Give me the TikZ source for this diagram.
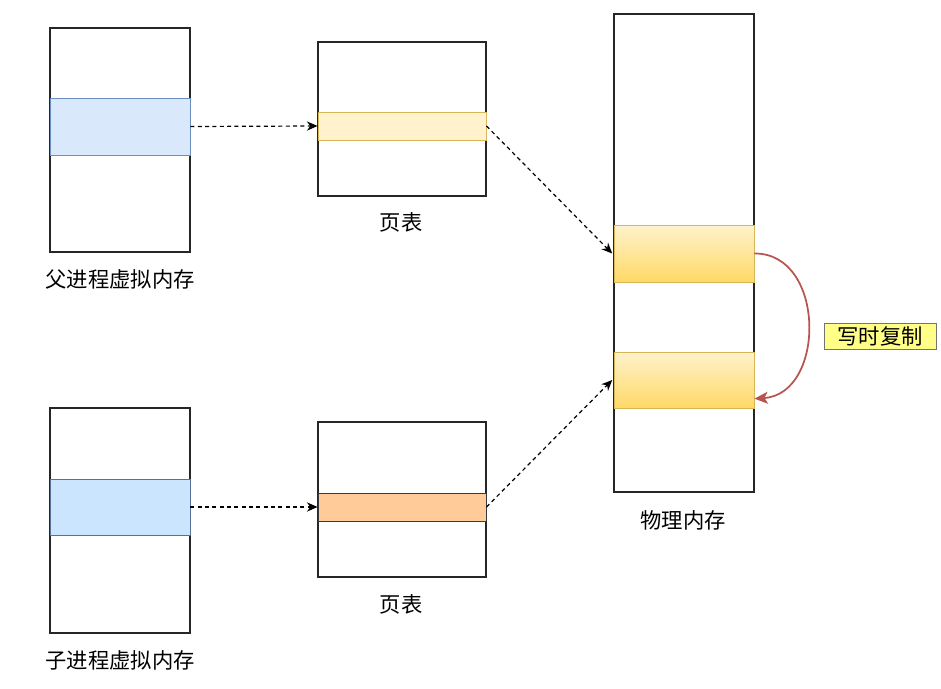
\documentclass[tikz,border=0pt]{standalone}
\usepackage{fontspec}
\newfontfamily\cjk{Noto Sans CJK SC}
\usetikzlibrary{arrows.meta}
\definecolor{blueA}{HTML}{DAE8FC}
\definecolor{blueAb}{HTML}{6C8EBF}
\definecolor{blueB}{HTML}{CCE5FF}
\definecolor{yelA}{HTML}{FFF2CC}
\definecolor{yelAb}{HTML}{D6B656}
\definecolor{yelB}{HTML}{FFD966}
\definecolor{orA}{HTML}{FFCC99}
\definecolor{darkb}{HTML}{36393D}
\definecolor{redc}{HTML}{B85450}
\definecolor{labfill}{HTML}{FFFF88}
\tikzset{
  mem/.style={draw=black!85, line width=0.9pt, fill=white},
  lbl/.style={font=\cjk\fontsize{16pt}{19pt}\selectfont, inner sep=0pt},
  dasharrow/.style={dash pattern=on 3pt off 2.5pt, line width=0.9pt, -{Stealth[length=8pt,width=7pt]}},
}
\begin{document}
\begin{tikzpicture}[x=0.75pt,y=-0.75pt]
\useasboundingbox (0,0) rectangle (941,688);
% parent virtual memory
\draw[mem] (50,28) rectangle (190,252);
\node[draw=blueAb, fill=blueA, minimum width=105pt, minimum height=42.75pt, inner sep=0pt, line width=0.7pt] (pband) at (120,126.5) {};
\node[lbl] (plab) at (120,279) {父进程虚拟内存};
% page table 1
\draw[mem] (318,42) rectangle (486,196);
\node[draw=yelAb, fill=yelA, minimum width=126pt, minimum height=21pt, inner sep=0pt, line width=0.7pt] (t1band) at (402,126) {};
\node[lbl] (t1lab) at (401,222) {页表};
% physical memory
\draw[mem] (614,14) rectangle (754,492);
\node[draw=yelAb, top color=yelA, bottom color=yelB, minimum width=105pt, minimum height=42.75pt, inner sep=0pt, line width=0.7pt] (m1) at (684,253.5) {};
\node[draw=yelAb, top color=yelA, bottom color=yelB, minimum width=105pt, minimum height=42pt, inner sep=0pt, line width=0.7pt] (m2) at (684,380) {};
\node[lbl] (mlab) at (683,520) {物理内存};
% child virtual memory
\draw[mem] (50,408) rectangle (190,633);
\node[draw=blueAb!80!black, fill=blueB, minimum width=105pt, minimum height=42pt, inner sep=0pt, line width=0.7pt] (cband) at (120,507) {};
\node[lbl] (clab) at (120,660) {子进程虚拟内存};
% page table 2
\draw[mem] (318,422) rectangle (486,577);
\node[draw=darkb, fill=orA, minimum width=126pt, minimum height=21pt, inner sep=0pt, line width=0.7pt] (t2band) at (402,507) {};
\node[lbl] (t2lab) at (401,604) {页表};
% label
\node[draw=darkb!70, fill=labfill, lbl, minimum width=84pt, minimum height=20pt, line width=0.7pt] (cow) at (880,336.5) {写时复制};
% arrows
\draw[dasharrow] (pband.east) -- (t1band.west);
\draw[dasharrow] (cband.east) -- (t2band.west);
\draw[dasharrow] (t1band.east) -- ([xshift=-1pt]m1.west);
\draw[dasharrow] (t2band.east) -- ([xshift=-1pt]m2.west);
\draw[redc, line width=1.3pt, -{Stealth[length=10pt,width=9pt,inset=2.5pt]}] (m1.east) .. controls (826,253) and (826,394) .. ([yshift=-14pt]m2.east);
\end{tikzpicture}
\end{document}
